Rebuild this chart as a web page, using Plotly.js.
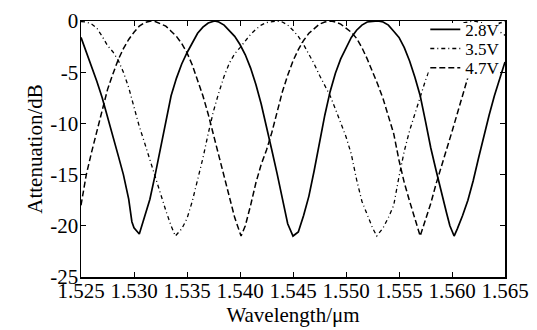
<!DOCTYPE html>
<html>
<head>
<meta charset="utf-8">
<script src="https://cdn.plot.ly/plotly-3.0.1.min.js"></script>
<style>html,body{margin:0;padding:0;background:#fff;}#chart{width:537px;height:330px;}</style>
</head>
<body>
<div id="chart"></div>
<script>
// Series names
const seriesNames = ["2.8V", "3.5V", "4.7V"];

// 2.8V (solid)
const x28 = [1.5250,1.5255,1.5260,1.5265,1.5270,1.5275,1.5280,1.5285,1.5290,1.5295,1.5298,1.5300,1.5305,
  1.5310,1.5315,1.5320,1.5325,1.5330,1.5335,1.5340,1.5345,1.5350,1.5355,1.5360,1.5365,1.5370,1.5376,
  1.5380,1.5385,1.5390,1.5395,1.5400,1.5405,1.5410,1.5415,1.5420,1.5425,1.5430,1.5435,1.5440,1.5445,1.5450,
  1.5455,1.5460,1.5465,1.5470,1.5475,1.5480,1.5485,1.5490,1.5495,1.5500,1.5505,1.5510,1.5515,1.5520,1.5530,
  1.5535,1.5540,1.5545,1.5550,1.5555,1.5560,1.5565,1.5570,1.5575,1.5580,1.5585,1.5590,1.5595,1.5598,1.5602,
  1.5605,1.5610,1.5615,1.5620,1.5625,1.5630,1.5635,1.5640,1.5645,1.5650];
const y28 = [-1.6,-3.0,-4.4,-5.9,-7.5,-9.3,-11.2,-13.1,-15.0,-17.4,-19.6,-20.2,-20.8,
  -19.0,-17.4,-15.0,-12.4,-9.6,-7.3,-5.6,-4.2,-3.1,-2.1,-1.2,-0.6,-0.2,0,
  -0.1,-0.4,-0.9,-1.5,-2.3,-3.3,-4.6,-6.2,-8.1,-10.2,-12.6,-14.9,-17.3,-19.8,-21.0,
  -20.6,-19.0,-17.1,-14.6,-11.9,-9.2,-6.9,-5.1,-3.7,-2.6,-1.6,-0.9,-0.4,-0.1,0,
  -0.1,-0.4,-1.0,-1.6,-2.6,-3.9,-5.5,-7.3,-9.8,-12.4,-14.6,-16.8,-18.8,-20.0,-21.0,
  -20.3,-19.0,-17.5,-15.6,-13.4,-11.2,-9.2,-7.3,-5.6,-4.0];

// 3.5V (dash-dot)
const x35 = [1.5250,1.5255,1.5260,1.5265,1.5270,1.5275,1.5280,1.5285,1.5290,1.5295,1.5300,1.5305,1.5310,1.5315,1.5320,1.5325,1.5330,1.5335,1.5339,
  1.5345,1.5350,1.5355,1.5360,1.5365,1.5370,1.5375,1.5380,1.5385,1.5390,1.5395,1.5400,1.5405,1.5410,1.5415,1.5420,1.5425,1.5435,
  1.5440,1.5445,1.5450,1.5455,1.5460,1.5465,1.5470,1.5475,1.5480,1.5485,1.5490,1.5495,1.5500,1.5505,1.5510,1.5515,1.5520,1.5525,1.5529,
  1.5535,1.5540,1.5545,1.5550,1.5555,1.5560,1.5565,1.5570,1.5575,1.5580,1.5585,1.5590,1.5595,1.5600,1.5605,1.5610,1.5620,1.5630,1.5640,1.5650];
const y35 = [-0.05,-0.1,-0.3,-0.7,-1.5,-2.4,-3.0,-3.8,-5.0,-6.5,-8.4,-10.3,-11.9,-13.6,-15.2,-16.8,-18.5,-20.0,-21.0,
  -20.3,-19.3,-17.6,-15.6,-13.4,-11.0,-8.8,-7.0,-5.4,-4.1,-3.2,-2.6,-1.9,-1.3,-0.8,-0.4,-0.15,0,
  -0.1,-0.4,-0.9,-1.5,-2.3,-3.2,-4.2,-5.3,-6.3,-7.3,-8.6,-10.0,-11.3,-13.0,-15.5,-17.6,-19.0,-20.2,-21.0,
  -20.2,-19.2,-18.0,-15.2,-12.7,-10.7,-9.0,-7.4,-5.8,-4.4,-3.3,-2.4,-1.6,-1.0,-0.5,-0.2,0,-0.2,-0.7,-1.4];

// 4.7V (long dash)
const x47 = [1.5250,1.5255,1.5260,1.5265,1.5270,1.5275,1.5280,1.5285,1.5290,1.5295,1.5300,1.5305,1.5310,1.5316,
  1.5320,1.5325,1.5330,1.5335,1.5340,1.5345,1.5350,1.5355,1.5360,1.5365,1.5370,1.5375,1.5380,1.5385,1.5390,1.5395,1.5401,
  1.5405,1.5410,1.5415,1.5420,1.5425,1.5430,1.5435,1.5440,1.5445,1.5450,1.5455,1.5460,1.5465,1.5470,1.5475,1.5480,1.5486,
  1.5490,1.5495,1.5500,1.5505,1.5510,1.5515,1.5520,1.5525,1.5530,1.5535,1.5540,1.5545,1.5550,1.5555,1.5560,1.5565,1.5570,
  1.5575,1.5580,1.5585,1.5590,1.5595,1.5600,1.5605,1.5610,1.5615,1.5620,1.5625,1.5630,1.5635,1.5640,1.5645,1.5650];
const y47 = [-18.0,-15.0,-12.8,-10.8,-8.6,-6.7,-5.2,-3.8,-2.7,-1.8,-1.1,-0.5,-0.15,0,
  -0.05,-0.25,-0.5,-1.0,-1.5,-2.2,-3.1,-4.3,-5.7,-7.3,-9.1,-11.1,-13.2,-15.3,-17.2,-19.2,-21.0,
  -20.0,-18.0,-15.8,-14.0,-12.6,-10.9,-8.8,-6.9,-5.3,-3.9,-2.8,-1.9,-1.2,-0.7,-0.3,-0.1,0,
  -0.1,-0.3,-0.7,-1.1,-1.7,-2.6,-3.7,-4.9,-6.2,-7.6,-9.2,-11.0,-13.6,-15.8,-17.6,-19.4,-21.0,
  -19.4,-17.8,-15.9,-14.3,-12.5,-10.8,-9.0,-7.2,-5.5,-4.0,-2.8,-1.8,-1.0,-0.5,-0.2,-0.05];

// Axis ticks
const xTicks = [1.525,1.530,1.535,1.540,1.545,1.550,1.555,1.560,1.565];
const xTickText = ["1.525","1.530","1.535","1.540","1.545","1.550","1.555","1.560","1.565"];
const yTicks = [-25,-20,-15,-10,-5,0];
const yTickText = ["-25","-20","-15","-10","-5","0"];

const FONT = "'Liberation Serif', 'Times New Roman', serif";

const traces = [
  {x: x28, y: y28, name: seriesNames[0], type: "scatter", mode: "lines",
   line: {color: "#000", width: 1.7, dash: "solid"}, legend: "legend"},
  {x: x35, y: y35, name: seriesNames[1], type: "scatter", mode: "lines",
   line: {color: "#000", width: 1.3, dash: "4px,3px,1px,3px"}, legend: "legend2"},
  {x: x47, y: y47, name: seriesNames[2], type: "scatter", mode: "lines",
   line: {color: "#000", width: 1.5, dash: "6px,3px"}, legend: "legend3"}
];

const legendBase = {
  bgcolor: "rgba(0,0,0,0)", borderwidth: 0,
  font: {family: FONT, size: 17, color: "#000"},
  xanchor: "left", yanchor: "middle", x: 0.812, itemwidth: 30
};

const layout = {
  width: 537, height: 330,
  margin: {l: 81, r: 32, t: 16, b: 53},
  paper_bgcolor: "#fff", plot_bgcolor: "#fff",
  font: {family: FONT, size: 21, color: "#000"},
  xaxis: {
    range: [1.525, 1.565], tickvals: xTicks, ticktext: xTickText,
    ticks: "inside", ticklen: 5, tickwidth: 1, tickcolor: "#000",
    showline: true, linecolor: "#000", linewidth: 1.5, mirror: "ticks",
    showgrid: false, zeroline: false, ticklabelstandoff: -6,
    tickfont: {family: FONT, size: 21, color: "#000"},
    title: {text: "Wavelength/μm", font: {family: FONT, size: 21, color: "#000"}, standoff: 4}
  },
  yaxis: {
    range: [-25, 0], tickvals: yTicks, ticktext: yTickText,
    ticks: "inside", ticklen: 5, tickwidth: 1, tickcolor: "#000",
    showline: true, linecolor: "#000", linewidth: 1.5, mirror: "ticks",
    showgrid: false, zeroline: false, ticklabelstandoff: -3,
    tickfont: {family: FONT, size: 21, color: "#000"},
    title: {text: "Attenuation/dB", font: {family: FONT, size: 21, color: "#000"}, standoff: 2}
  },
  showlegend: true,
  legend: Object.assign({}, legendBase, {y: 0.9655}),
  legend2: Object.assign({}, legendBase, {y: 0.8908}),
  legend3: Object.assign({}, legendBase, {y: 0.8161}),
  shapes: [{
    type: "rect", xref: "paper", yref: "paper", layer: "above",
    x0: 0.82, x1: 0.985, y0: 0.775, y1: 0.992,
    fillcolor: "#fff", line: {width: 0}
  }]
};

Plotly.newPlot("chart", traces, layout, {displayModeBar: false, staticPlot: true});
</script>
</body>
</html>
